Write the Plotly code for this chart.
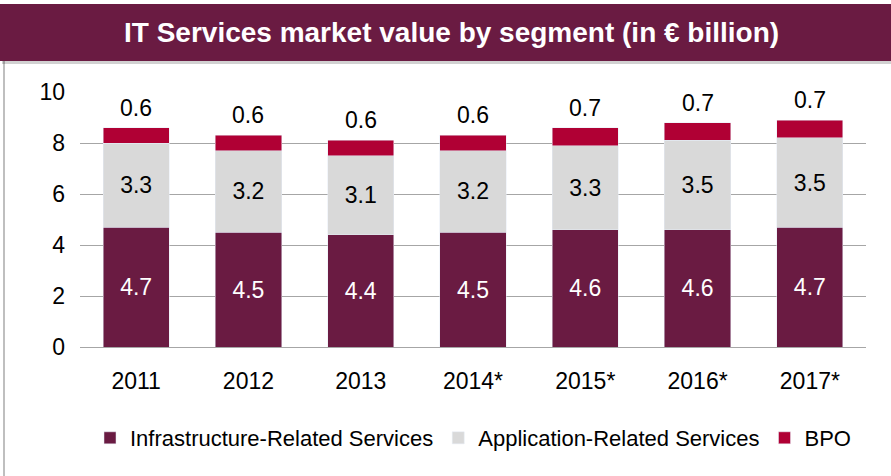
import plotly.graph_objects as go

years = ["2011", "2012", "2013", "2014*", "2015*", "2016*", "2017*"]
infra = [4.7, 4.5, 4.4, 4.5, 4.6, 4.6, 4.7]
app = [3.3, 3.2, 3.1, 3.2, 3.3, 3.5, 3.5]
bpo = [0.6, 0.6, 0.6, 0.6, 0.7, 0.7, 0.7]

names = ["Infrastructure-Related Services", "Application-Related Services", "BPO"]
title = "IT Services market value by segment (in € billion)"

C_INFRA = "#6A1B42"
C_APP = "#D9D9D9"
C_BPO = "#B00034"
FONT = "Liberation Sans, Arial, sans-serif"
FS = 23

W, H = 891, 476
L, R, T, B = 80, 25, 92, 129
pw, ph = W - L - R, H - T - B


def px(x):
    return (x - L) / pw


def py(y):
    return (H - B - y) / ph


fig = go.Figure()
fig.add_trace(go.Bar(x=years, y=infra, name=names[0], marker_color=C_INFRA,
                     text=[f"{v:.1f}" for v in infra], textposition="inside",
                     insidetextanchor="middle",
                     textfont=dict(color="white", size=FS, family=FONT)))
fig.add_trace(go.Bar(x=years, y=app, name=names[1], marker_color=C_APP,
                     text=[f"{v:.1f}" for v in app], textposition="inside",
                     insidetextanchor="middle",
                     textfont=dict(color="black", size=FS, family=FONT)))
fig.add_trace(go.Bar(x=years, y=bpo, name=names[2], marker_color=C_BPO))

totals = [a + b + c for a, b, c in zip(infra, app, bpo)]
annotations = []
for i, (tot, v) in enumerate(zip(totals, bpo)):
    annotations.append(dict(x=i, y=tot, text=f"{v:.1f}", showarrow=False,
                            yanchor="bottom", yshift=5,
                            font=dict(size=FS, color="black", family=FONT)))

annotations.append(dict(xref="paper", yref="paper", x=px(451), y=py(33),
                        text=f"<b>{title}</b>", showarrow=False,
                        xanchor="center", yanchor="middle",
                        font=dict(size=28, color="white", family=FONT)))

shapes = [
    # frame
    dict(type="rect", xref="paper", yref="paper", x0=px(4), x1=px(900),
         y0=py(490), y1=py(30), line=dict(color="#BFBFBF", width=2),
         fillcolor="rgba(0,0,0,0)", layer="below"),
    # banner shadow
    dict(type="rect", xref="paper", yref="paper", x0=px(2), x1=px(900),
         y0=py(64), y1=py(6), line=dict(width=0),
         fillcolor="rgba(0,0,0,0.18)", layer="below"),
    # banner
    dict(type="rect", xref="paper", yref="paper", x0=px(0), x1=px(900),
         y0=py(61), y1=py(4), line=dict(width=0),
         fillcolor=C_INFRA, layer="below"),
]

fig.update_layout(
    width=W, height=H,
    margin=dict(l=L, r=R, t=T, b=B, autoexpand=False),
    paper_bgcolor="white", plot_bgcolor="white",
    barmode="stack", bargap=0.41,
    font=dict(family=FONT, size=FS, color="black"),
    showlegend=True,
    legend=dict(orientation="h", x=0.5, xanchor="center", y=py(438),
                yanchor="middle", font=dict(size=22, family=FONT),
                traceorder="normal", itemwidth=30,
                bgcolor="rgba(0,0,0,0)"),
    annotations=annotations,
    shapes=shapes,
    uniformtext=dict(mode=False),
)
fig.update_xaxes(type="category", range=[-0.5, len(years) - 0.5],
                 showgrid=False, showline=False, ticks="",
                 tickfont=dict(size=FS, family=FONT), ticklabelstandoff=18)
fig.update_yaxes(range=[0, 10], dtick=2, showgrid=True, gridcolor="#A6A6A6",
                 gridwidth=1, zeroline=True, zerolinecolor="#A6A6A6",
                 zerolinewidth=1, showline=False, ticks="",
                 tickfont=dict(size=FS, family=FONT), ticklabelstandoff=14)

fig.write_html("out.html", config={"displayModeBar": False},
               post_script="document.body.style.margin='0';")
